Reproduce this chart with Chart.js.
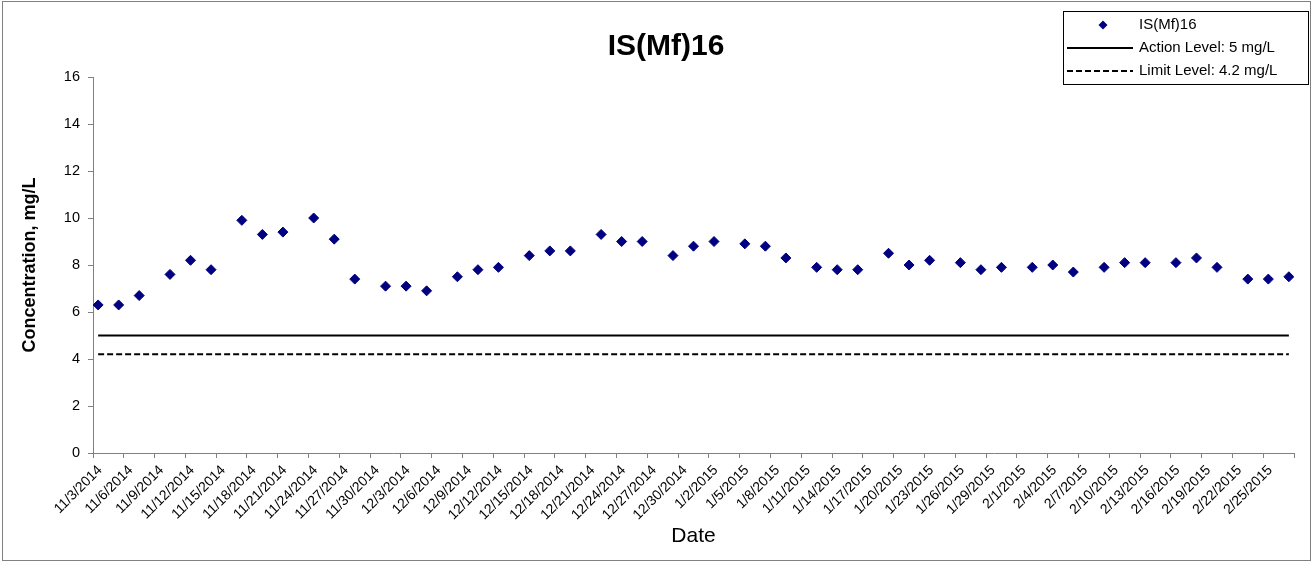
<!DOCTYPE html>
<html><head><meta charset="utf-8">
<script src="https://cdn.jsdelivr.net/npm/chart.js@4.4.1/dist/chart.umd.min.js"></script>
<style>html,body{margin:0;padding:0;background:#fff;}#wrap{position:relative;width:1313px;height:562px;}canvas{display:block;}</style>
</head><body><div id="wrap"><canvas id="c" width="1313" height="562"></canvas></div>
<script>
const chartTitle = 'IS(Mf)16';
const xAxisTitle = 'Date';
const yAxisTitle = 'Concentration, mg/L';
const seriesName = 'IS(Mf)16';
const actionName = 'Action Level: 5 mg/L';
const limitName = 'Limit Level: 4.2 mg/L';
const actionLevel = 5;
const limitLevel = 4.2;

const sampleDates = [
 '11/3/2014','11/5/2014','11/7/2014','11/10/2014','11/12/2014','11/14/2014','11/17/2014','11/19/2014','11/21/2014',
 '11/24/2014','11/26/2014','11/28/2014','12/1/2014','12/3/2014','12/5/2014','12/8/2014','12/10/2014','12/12/2014',
 '12/15/2014','12/17/2014','12/19/2014','12/22/2014','12/24/2014','12/26/2014','12/29/2014','12/31/2014','1/2/2015',
 '1/5/2015','1/7/2015','1/9/2015','1/12/2015','1/14/2015','1/16/2015','1/19/2015','1/21/2015','1/23/2015',
 '1/26/2015','1/28/2015','1/30/2015','2/2/2015','2/4/2015','2/6/2015','2/9/2015','2/11/2015','2/13/2015',
 '2/16/2015','2/18/2015','2/20/2015','2/23/2015','2/25/2015','2/27/2015'];
const concentrations = [
 6.3,6.3,6.7,7.6,8.2,7.8,9.9,9.3,9.4,
 10.0,9.1,7.4,7.1,7.1,6.9,7.5,7.8,7.9,
 8.4,8.6,8.6,9.3,9.0,9.0,8.4,8.8,9.0,
 8.9,8.8,8.3,7.9,7.8,7.8,8.5,8.0,8.2,
 8.1,7.8,7.9,7.9,8.0,7.7,7.9,8.1,8.1,
 8.1,8.3,7.9,7.4,7.4,7.5];
const levelDates = ['11/3/2014','2/27/2015'];
const tickLabels = [
 '11/3/2014','11/6/2014','11/9/2014','11/12/2014','11/15/2014','11/18/2014','11/21/2014','11/24/2014','11/27/2014','11/30/2014',
 '12/3/2014','12/6/2014','12/9/2014','12/12/2014','12/15/2014','12/18/2014','12/21/2014','12/24/2014','12/27/2014','12/30/2014',
 '1/2/2015','1/5/2015','1/8/2015','1/11/2015','1/14/2015','1/17/2015','1/20/2015','1/23/2015','1/26/2015','1/29/2015',
 '2/1/2015','2/4/2015','2/7/2015','2/10/2015','2/13/2015','2/16/2015','2/19/2015','2/22/2015','2/25/2015'];
const axisStartDate = '11/3/2014';
const axisEndDate = '2/28/2015';
const yMin = 0, yMax = 16, yStep = 2;

const FONT = "Arial, 'Liberation Sans', sans-serif";
function dayIndex(s){
  const [m,d,y] = s.split('/').map(Number);
  const [m0,d0,y0] = axisStartDate.split('/').map(Number);
  return Math.round((Date.UTC(y,m-1,d) - Date.UTC(y0,m0-1,d0)) / 86400000);
}
const axisMax = dayIndex(axisEndDate);
const tickValues = tickLabels.map(dayIndex).concat([axisMax]);

const points = sampleDates.map((d,i) => ({x: dayIndex(d) + 0.5, y: concentrations[i]}));
const actionPts = levelDates.map(d => ({x: dayIndex(d) + 0.5, y: actionLevel}));
const limitPts = levelDates.map(d => ({x: dayIndex(d) + 0.5, y: limitLevel}));

const decor = {
  id: 'decor',
  afterDraw(chart){
    const ctx = chart.ctx;
    ctx.save();
    ctx.strokeStyle = '#808080'; ctx.lineWidth = 1;
    ctx.strokeRect(2.5, 1.5, 1308, 559);
    ctx.fillStyle = '#000';
    ctx.font = 'bold 30px ' + FONT;
    ctx.textAlign = 'center'; ctx.textBaseline = 'alphabetic';
    ctx.fillText(chartTitle, 666, 55);
    ctx.fillStyle = '#fff';
    ctx.fillRect(1063.5, 11.5, 245, 73);
    ctx.strokeStyle = '#000'; ctx.lineWidth = 1;
    ctx.strokeRect(1063.5, 11.5, 245, 73);
    ctx.font = '15px ' + FONT;
    ctx.textAlign = 'left'; ctx.textBaseline = 'middle';
    ctx.fillStyle = '#000';
    ctx.fillText(seriesName, 1139, 25);
    ctx.fillText(actionName, 1139, 48);
    ctx.fillText(limitName, 1139, 71);
    ctx.fillStyle = '#000080';
    ctx.beginPath(); ctx.moveTo(1103, 20.5); ctx.lineTo(1107.5, 25); ctx.lineTo(1103, 29.5); ctx.lineTo(1098.5, 25); ctx.closePath(); ctx.fill();
    ctx.strokeStyle = '#000'; ctx.lineWidth = 2;
    ctx.beginPath(); ctx.moveTo(1067, 48); ctx.lineTo(1133, 48); ctx.stroke();
    ctx.setLineDash([6,3]);
    ctx.beginPath(); ctx.moveTo(1067, 71); ctx.lineTo(1133, 71); ctx.stroke();
    ctx.restore();
  }
};

new Chart(document.getElementById('c'), {
  type: 'scatter',
  data: {
    datasets: [
      {label: seriesName, data: points, showLine: false, pointStyle: 'rectRot', pointRadius: 5, pointHoverRadius: 5,
       backgroundColor: '#000080', borderColor: '#000080', borderWidth: 1},
      {label: actionName, data: actionPts, showLine: true, pointRadius: 0, borderColor: '#000', borderWidth: 2, backgroundColor: '#000'},
      {label: limitName, data: limitPts, showLine: true, pointRadius: 0, borderColor: '#000', borderWidth: 2, borderDash: [6,3], backgroundColor: '#000'}
    ]
  },
  options: {
    responsive: false, animation: false, events: [],
    layout: {padding: {left: 0, top: 77, right: 19, bottom: 0}},
    plugins: {legend: {display: false}, title: {display: false}, tooltip: {enabled: false}},
    scales: {
      x: {
        type: 'linear', min: 0, max: axisMax,
        afterBuildTicks: s => { s.ticks = tickValues.map(v => ({value: v})); },
        afterFit: s => { s.height = 109; },
        ticks: {autoSkip: false, minRotation: 45, maxRotation: 45, color: '#000', padding: 4, labelOffset: 7,
                font: {family: FONT, size: 14},
                callback: (v, i) => (i < tickLabels.length ? tickLabels[i] : '')},
        grid: {drawOnChartArea: false, drawTicks: true, tickLength: 5, color: '#808080'},
        border: {color: '#808080', width: 1},
        title: {display: true, text: xAxisTitle, color: '#000', font: {family: FONT, size: 21}, padding: {top: 0, bottom: 13}}
      },
      y: {
        min: yMin, max: yMax,
        afterFit: s => { s.width = 93; },
        ticks: {stepSize: yStep, color: '#000', padding: 8, font: {family: FONT, size: 14.5}},
        grid: {drawOnChartArea: false, drawTicks: true, tickLength: 5, color: '#808080'},
        border: {color: '#808080', width: 1},
        title: {display: true, text: yAxisTitle, color: '#000', font: {family: FONT, size: 18, weight: 'bold'}, padding: {top: 19, bottom: 0}}
      }
    }
  },
  plugins: [decor]
});
</script></body></html>
